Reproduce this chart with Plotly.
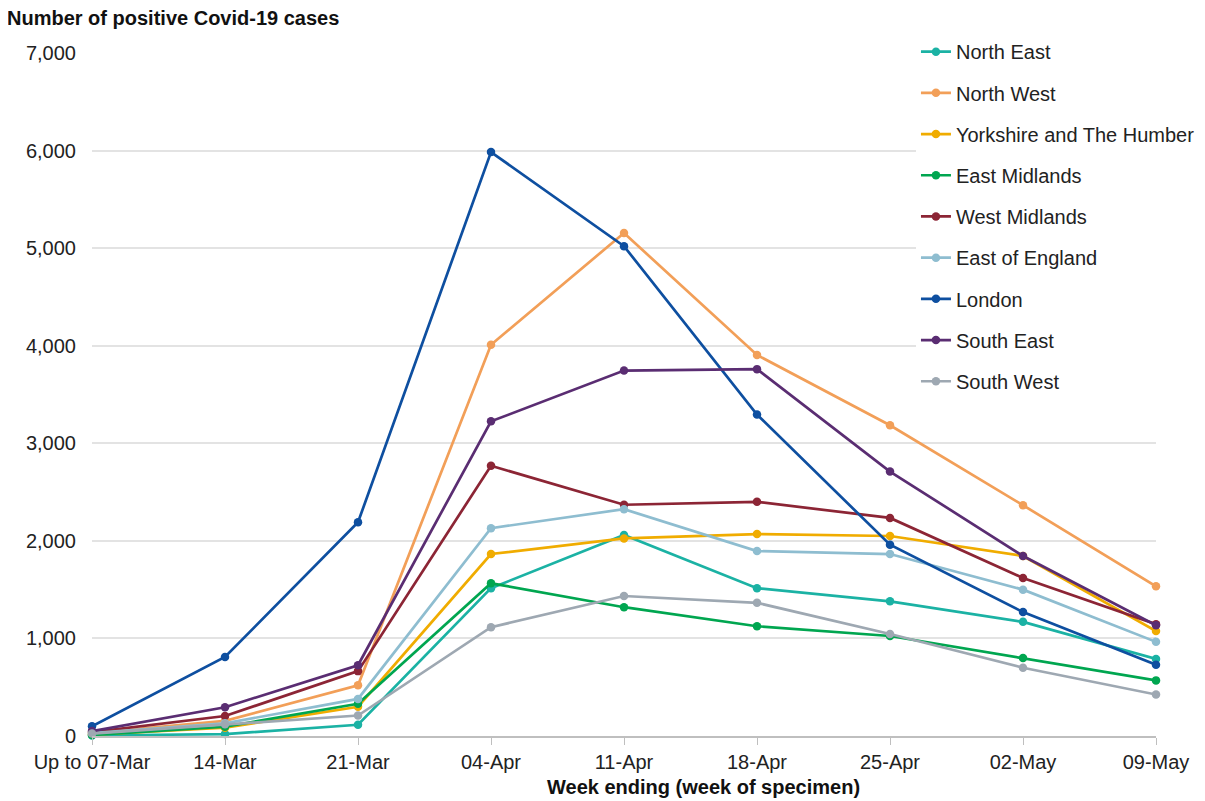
import plotly.graph_objects as go

weeks = ["Up to 07-Mar", "14-Mar", "21-Mar", "04-Apr", "11-Apr", "18-Apr", "25-Apr", "02-May", "09-May"]

north_east = [5, 20, 115, 1515, 2060, 1515, 1380, 1170, 790]
north_west = [30, 155, 520, 4010, 5155, 3905, 3185, 2365, 1535]
yorkshire = [15, 85, 300, 1865, 2025, 2070, 2050, 1845, 1075]
east_midlands = [10, 95, 330, 1565, 1320, 1125, 1025, 800, 570]
west_midlands = [40, 205, 665, 2770, 2370, 2400, 2235, 1620, 1145]
east_of_england = [30, 130, 380, 2130, 2325, 1895, 1865, 1500, 965]
london = [100, 810, 2190, 5985, 5020, 3295, 1960, 1270, 730]
south_east = [50, 295, 725, 3225, 3745, 3760, 2710, 1845, 1135]
south_west = [25, 120, 210, 1115, 1435, 1365, 1045, 700, 425]

series = [
    ("North East", north_east, "#1bb2a4"),
    ("North West", north_west, "#f29f58"),
    ("Yorkshire and The Humber", yorkshire, "#f0ac00"),
    ("East Midlands", east_midlands, "#00a650"),
    ("West Midlands", west_midlands, "#8c2535"),
    ("East of England", east_of_england, "#8ebdd0"),
    ("London", london, "#0e4fa0"),
    ("South East", south_east, "#5a2d72"),
    ("South West", south_west, "#9ea8b2"),
]

fig = go.Figure()
for i, (name, vals, col) in enumerate(series):
    fig.add_trace(go.Scatter(
        x=weeks, y=vals, name=name, mode="lines+markers",
        line=dict(color=col, width=2.7),
        marker=dict(color=col, size=8.5),
        cliponaxis=False,
        legendgroup=f"g{i}",
    ))

FONT = "Liberation Sans, Arial, sans-serif"
PW = 1064
PH = 683

fig.update_layout(
    width=1205, height=793,
    paper_bgcolor="white", plot_bgcolor="white",
    margin=dict(l=84, r=57, t=45, b=65),
    font=dict(family=FONT, size=20, color="#222222"),
    showlegend=True,
    legend=dict(
        x=0.7744, xanchor="left", y=1.0305, yanchor="top",
        bgcolor="white", font=dict(size=20, family=FONT, color="#222222"),
        traceorder="grouped", tracegroupgap=12.2, itemwidth=30,
    ),
    xaxis=dict(
        type="category", range=[0, 8],
        showgrid=False, showline=True, linecolor="#bfbfbf", linewidth=1.5,
        ticks="outside", ticklen=7, tickcolor="#bfbfbf",
        tickfont=dict(size=20, family=FONT, color="#222222"),
    ),
    yaxis=dict(
        range=[0, 7000], dtick=1000, tickformat=",",
        showgrid=True, gridcolor="#e3e3e3", gridwidth=1.5,
        zeroline=False, showline=False,
        ticklabelstandoff=15,
        tickfont=dict(size=20, family=FONT, color="#222222"),
    ),
    annotations=[
        dict(text="<b>Number of positive Covid-19 cases</b>", xref="paper", yref="paper",
             x=-87/PW, y=(736-18)/PH, xanchor="left", yanchor="middle", showarrow=False,
             font=dict(size=20, family=FONT, color="#111111")),
        dict(text="<b>Week ending (week of specimen)</b>", xref="paper", yref="paper",
             x=(703-92)/PW, y=-(787-736)/PH, xanchor="center", yanchor="middle", showarrow=False,
             font=dict(size=20, family=FONT, color="#111111")),
    ],
)

fig.write_html("out.html")
